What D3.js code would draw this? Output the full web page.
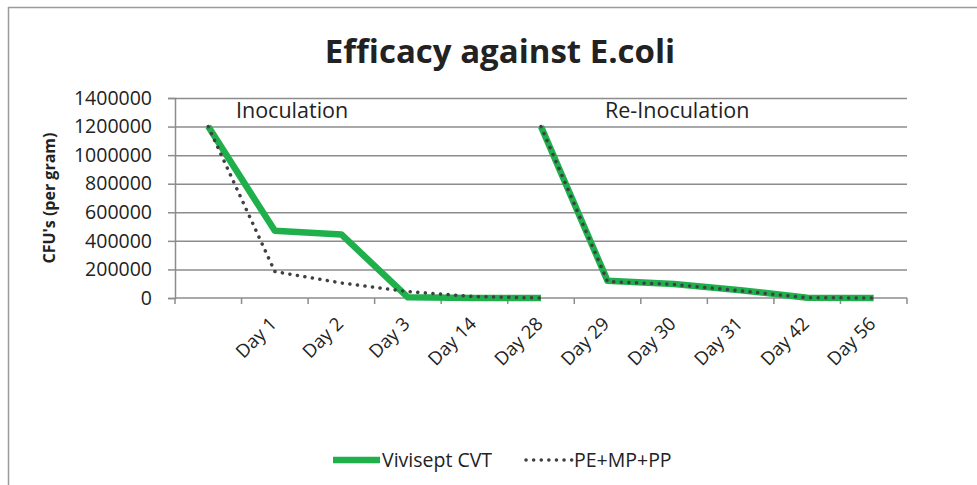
<!DOCTYPE html>
<html>
<head>
	<title></title>
	<style>
		body { margin: 0; background: #fff; }
		text { font-family: "Open Sans", sans-serif; fill: #222; }
	</style>
</head>
<body>

<svg id="chart" width="977" height="485"></svg>

<script src="https://d3js.org/d3.v7.min.js"></script>
<script>
	// Categories along the x axis (first one has no label)
	const categories = ['', 'Day 1', 'Day 2', 'Day 3', 'Day 14', 'Day 28', 'Day 29', 'Day 30', 'Day 31', 'Day 42', 'Day 56']

	// Two phases, each drawn as its own stretch of line
	const inoculationDays = ['', 'Day 1', 'Day 2', 'Day 3', 'Day 14', 'Day 28']
	const reinoculationDays = ['Day 28', 'Day 29', 'Day 30', 'Day 31', 'Day 42', 'Day 56']

	// CFU's per gram
	const viviseptInoculation = [1200000, 470000, 445000, 5000, 0, 0]
	const peInoculation = [1200000, 185000, 105000, 45000, 10000, 0]
	const viviseptReinoculation = [1200000, 120000, 98000, 55000, 2000, 0]
	const peReinoculation = [1200000, 115000, 95000, 50000, 2000, 0]

	const yTicks = [0, 200000, 400000, 600000, 800000, 1000000, 1200000, 1400000]

	const svg = d3.select('#chart')

	// outer frame lines (top and left)
	svg.append('line').attr('x1', 8).attr('x2', 977).attr('y1', 7.5).attr('y2', 7.5)
		.attr('stroke', '#9a9a9a').attr('stroke-width', 1.5)
	svg.append('line').attr('x1', 8.5).attr('x2', 8.5).attr('y1', 7).attr('y2', 485)
		.attr('stroke', '#9a9a9a').attr('stroke-width', 1.5)

	const plotLeft = 175, plotRight = 907, plotTop = 98, plotBottom = 298

	const x = d3.scaleBand()
		.domain(categories)
		.range([plotLeft, plotRight])

	const y = d3.scaleLinear()
		.domain([0, 1400000])
		.range([plotBottom, plotTop])

	// gridlines
	svg.append('g')
		.attr('transform', `translate(${plotLeft},0)`)
		.call(d3.axisLeft(y).tickValues(yTicks.slice(1)).tickSize(-(plotRight - plotLeft)).tickFormat(''))
		.call(g => g.select('.domain').remove())
		.call(g => g.selectAll('line').attr('stroke', '#8c8c8c').attr('stroke-width', 1.5))

	// y axis
	svg.append('g')
		.attr('transform', `translate(${plotLeft},0)`)
		.call(d3.axisLeft(y).tickValues(yTicks).tickSize(7).tickPadding(16).tickFormat(d3.format('d')))
		.call(g => g.select('.domain').attr('stroke', '#8c8c8c').attr('stroke-width', 1.5))
		.call(g => g.selectAll('line').attr('stroke', '#8c8c8c').attr('stroke-width', 1.5))
		.call(g => g.selectAll('text')
			.style('font-family', '"Open Sans", sans-serif')
			.style('font-size', '19.5px')
			.attr('fill', '#222'))

	// x axis line with ticks at category boundaries
	const xAxis = svg.append('g')
	xAxis.append('line')
		.attr('x1', plotLeft).attr('x2', plotRight).attr('y1', plotBottom).attr('y2', plotBottom)
		.attr('stroke', '#8c8c8c').attr('stroke-width', 1.5)
	xAxis.selectAll('.tick')
		.data(categories.concat(['end']))
		.enter()
		.append('line')
		.attr('x1', (d, i) => plotLeft + i * x.step())
		.attr('x2', (d, i) => plotLeft + i * x.step())
		.attr('y1', plotBottom).attr('y2', plotBottom + 6)
		.attr('stroke', '#8c8c8c').attr('stroke-width', 1.5)

	// rotated category labels
	xAxis.selectAll('.label')
		.data(categories)
		.enter()
		.append('text')
		.attr('transform', d => `translate(${x(d) + x.bandwidth() / 2 + 3},${plotBottom + 27}) rotate(-45)`)
		.attr('text-anchor', 'end')
		.style('font-size', '18.5px')
		.text(d => d)

	// y axis title
	svg.append('text')
		.attr('transform', `translate(55,${(plotTop + plotBottom) / 2}) rotate(-90)`)
		.attr('text-anchor', 'middle')
		.style('font-size', '16px')
		.style('font-weight', 'bold')
		.attr('fill', '#000')
		.text("CFU's  (per gram)")

	// chart title
	svg.append('text')
		.attr('x', 500).attr('y', 63)
		.attr('text-anchor', 'middle')
		.style('font-size', '33px')
		.style('font-weight', 'bold')
		.attr('fill', '#000')
		.text('Efficacy against E.coli')

	// phase labels
	svg.append('text').attr('x', 236).attr('y', 118).style('font-size', '21.5px').text('Inoculation')
	svg.append('text').attr('x', 605).attr('y', 118).style('font-size', '21.5px').text('Re-Inoculation')

	const line = d3.line()
		.x(d => x(d[0]) + x.bandwidth() / 2)
		.y(d => y(d[1]))

	const zipped = (days, vals) => days.map((d, i) => [d, vals[i]])

	const green = '#1fb04c'
	const dotted = '#3f3f46'

	// green series first, dotted drawn over it
	;[zipped(inoculationDays, viviseptInoculation), zipped(reinoculationDays, viviseptReinoculation)]
		.forEach(pts => {
			svg.append('path')
				.datum(pts)
				.attr('d', line)
				.attr('fill', 'none')
				.attr('stroke', green)
				.attr('stroke-width', 6.5)
				.attr('stroke-linejoin', 'round')
		})

	;[zipped(inoculationDays, peInoculation), zipped(reinoculationDays, peReinoculation)]
		.forEach(pts => {
			svg.append('path')
				.datum(pts)
				.attr('d', line)
				.attr('fill', 'none')
				.attr('stroke', dotted)
				.attr('stroke-width', 3.5)
				.attr('stroke-linecap', 'round')
				.attr('stroke-dasharray', '0.1 7.5')
		})

	// legend
	const legend = svg.append('g')
	legend.append('line')
		.attr('x1', 333).attr('x2', 380).attr('y1', 460).attr('y2', 460)
		.attr('stroke', green).attr('stroke-width', 6.5)
	legend.append('text').attr('x', 382).attr('y', 467).style('font-size', '19.5px').text('Vivisept CVT')
	legend.append('line')
		.attr('x1', 526).attr('x2', 572).attr('y1', 460).attr('y2', 460)
		.attr('stroke', dotted).attr('stroke-width', 3.5)
		.attr('stroke-linecap', 'round').attr('stroke-dasharray', '0.1 7.5')
	legend.append('text').attr('x', 574).attr('y', 467).style('font-size', '19.5px').text('PE+MP+PP')
</script>
</body>
</html>
